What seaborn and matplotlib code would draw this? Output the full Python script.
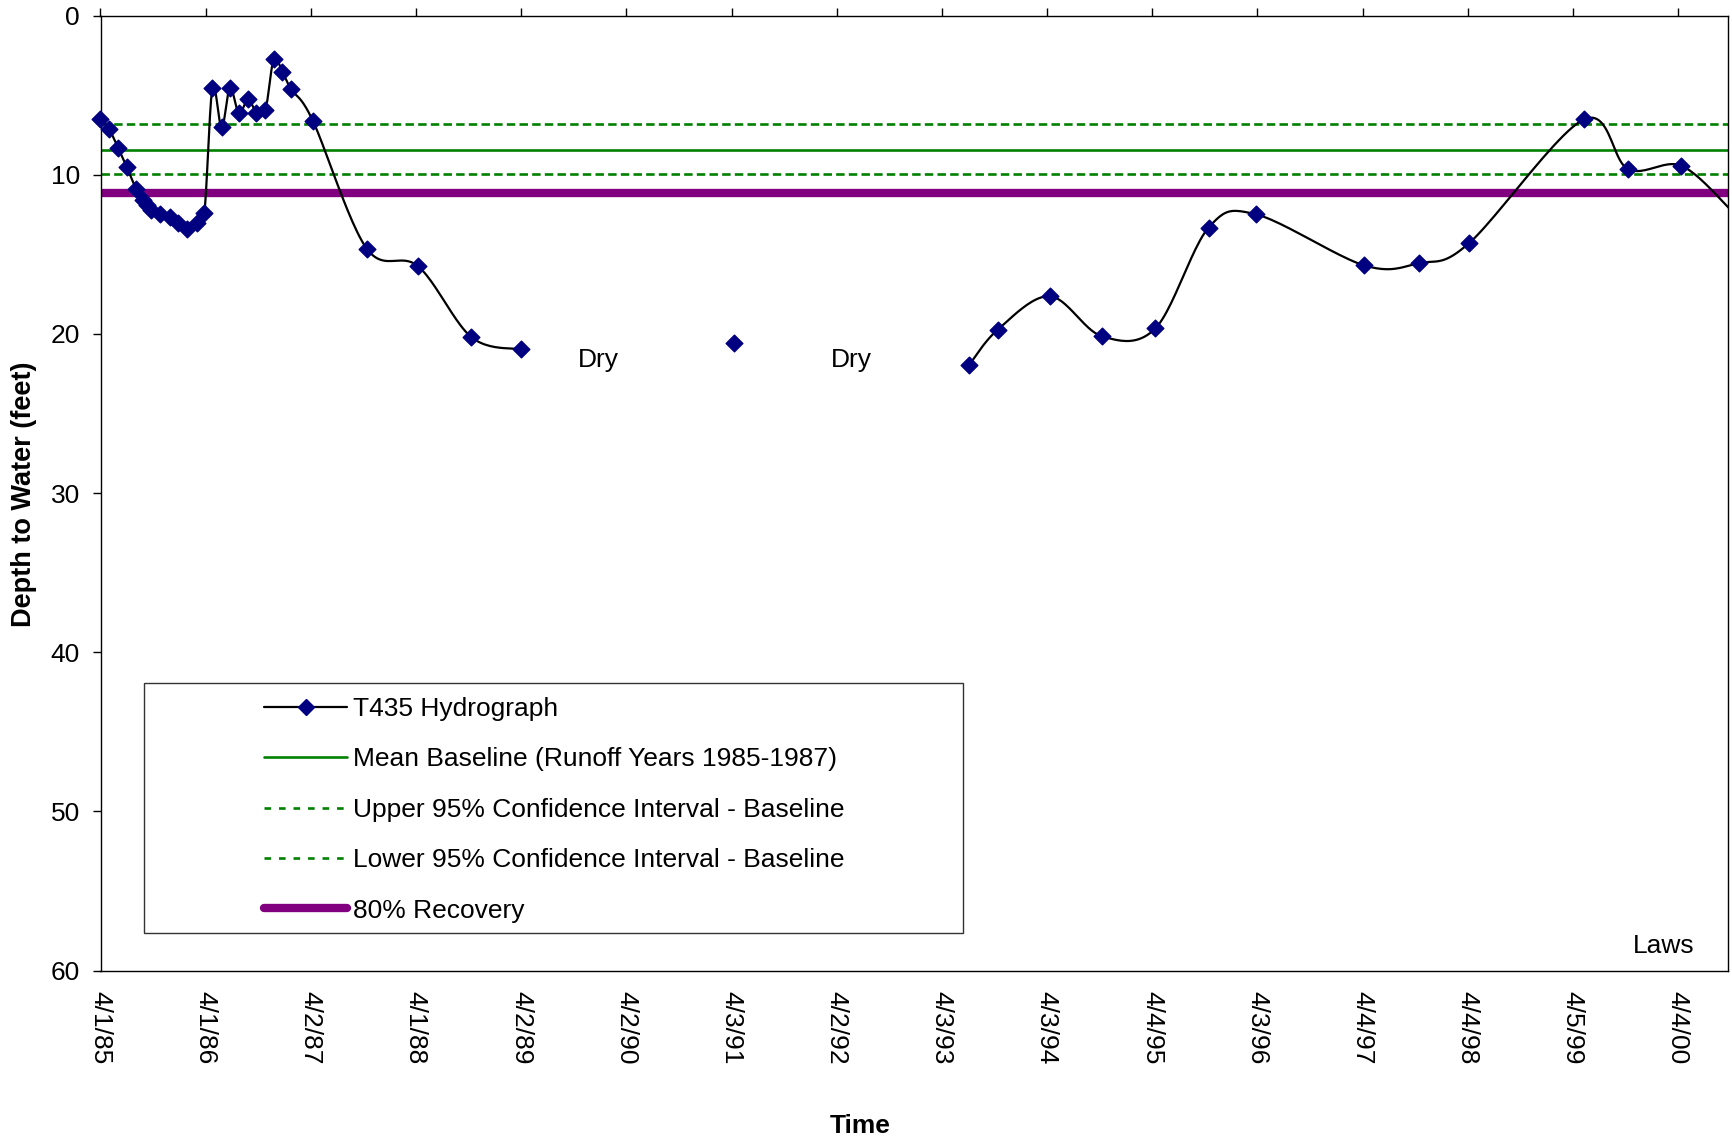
import numpy as np
import pandas as pd
import matplotlib
matplotlib.use("Agg")
import matplotlib.pyplot as plt
import matplotlib.dates as mdates
from matplotlib.lines import Line2D
from matplotlib.patches import Rectangle
import seaborn as sns

# ---------------- data ----------------
seg1_dates = ["1985-04-01", "1985-05-01", "1985-06-02", "1985-07-01", "1985-08-02",
              "1985-08-25", "1985-09-10", "1985-09-25", "1985-10-26", "1985-11-28",
              "1985-12-28", "1986-01-28", "1986-03-01", "1986-03-28", "1986-04-25",
              "1986-05-27", "1986-06-25", "1986-07-26", "1986-08-27", "1986-09-25",
              "1986-10-26", "1986-11-24", "1986-12-24", "1987-01-24", "1987-04-09",
              "1987-10-13", "1988-04-09", "1988-10-11", "1989-04-01"]
seg1_depth = [6.52, 7.13, 8.34, 9.50, 10.86,
              11.59, 11.90, 12.18, 12.43, 12.64,
              13.02, 13.43, 13.02, 12.39, 4.53,
              7.02, 4.53, 6.14, 5.24, 6.10,
              5.93, 2.74, 3.52, 4.63, 6.60,
              14.63, 15.75, 20.20, 20.97]

seg2_dates = ["1991-04-12"]
seg2_depth = [20.55]

seg3_dates = ["1993-07-07", "1993-10-15", "1994-04-13", "1994-10-10", "1995-04-15",
              "1995-10-17", "1996-03-31", "1997-04-10", "1997-10-18", "1998-04-09",
              "1999-05-13", "1999-10-14", "2000-04-16", "2000-10-10"]
seg3_depth = [21.94, 19.72, 17.63, 20.13, 19.65,
              13.32, 12.49, 15.69, 15.55, 14.30,
              6.52, 9.64, 9.43, 12.30]

mean_baseline = 8.43
upper_ci = 6.83
lower_ci = 9.96
recovery_80 = 11.17

tick_dates = ["1985-04-01", "1986-04-01", "1987-04-02", "1988-04-01", "1989-04-02",
              "1990-04-02", "1991-04-03", "1992-04-02", "1993-04-03", "1994-04-03",
              "1995-04-04", "1996-04-03", "1997-04-04", "1998-04-04", "1999-04-05",
              "2000-04-04"]
tick_labels = ["4/1/85", "4/1/86", "4/2/87", "4/1/88", "4/2/89", "4/2/90", "4/3/91",
               "4/2/92", "4/3/93", "4/3/94", "4/4/95", "4/3/96", "4/4/97", "4/4/98",
               "4/5/99", "4/4/00"]

legend_labels = ["T435 Hydrograph", "Mean Baseline (Runoff Years 1985-1987)",
                 "Upper 95% Confidence Interval - Baseline",
                 "Lower 95% Confidence Interval - Baseline", "80% Recovery"]

# ---------------- style ----------------
sns.set_theme(style="white")
plt.rcParams["font.family"] = ["Liberation Sans", "DejaVu Sans"]
for k in ["text.color", "axes.labelcolor", "xtick.color", "ytick.color"]:
    plt.rcParams[k] = "black"
FS = 19
NAVY, GREEN, PURPLE = "#000080", "#008000", "#800080"

W, H = 1732, 1139
fig = plt.figure(figsize=(W / 100, H / 100), dpi=100)
ax = fig.add_axes([100.5 / W, 1 - 970.5 / H, (1728.5 - 100.5) / W, (970.5 - 15.7) / H])

x_min = pd.Timestamp("1985-04-01")
x_max = pd.Timestamp("2000-09-27")
ax.set_xlim(x_min, x_max)
ax.set_ylim(60, 0)

# horizontal reference lines
ax.axhline(upper_ci, color=GREEN, lw=1.9, dashes=(3.2, 1.6), zorder=2)
ax.axhline(lower_ci, color=GREEN, lw=1.9, dashes=(3.2, 1.6), zorder=2)
ax.axhline(mean_baseline, color=GREEN, lw=1.9, zorder=2)
ax.axhline(recovery_80, color=PURPLE, lw=6.0, solid_capstyle="round", zorder=2)


def smooth_display(dates, depth, n=24):
    """Excel-like smoothed line: cubic Bezier through the points in display space."""
    xd = mdates.date2num(pd.to_datetime(dates))
    P = ax.transData.transform(np.column_stack([xd, depth]))
    if len(P) < 2:
        return xd, np.asarray(depth)
    ext = np.vstack([P[0], P, P[-1]])
    t = np.linspace(0, 1, n + 1)[1:][:, None]
    out = [P[:1]]
    for i in range(len(P) - 1):
        p0, p1, p2, p3 = ext[i], ext[i + 1], ext[i + 2], ext[i + 3]
        c1 = p1 + (p2 - p0) / 6.0
        c2 = p2 - (p3 - p1) / 6.0
        seg = ((1 - t) ** 3) * p1 + 3 * (1 - t) ** 2 * t * c1 + 3 * (1 - t) * t ** 2 * c2 + t ** 3 * p2
        out.append(seg)
    out = np.vstack(out)
    back = ax.transData.inverted().transform(out)
    return back[:, 0], back[:, 1]


for d, v in [(seg1_dates, seg1_depth), (seg3_dates, seg3_depth)]:
    sx, sy = smooth_display(d, v)
    ax.plot(sx, sy, color="black", lw=1.6, zorder=3, solid_capstyle="butt")

all_pts = pd.DataFrame({
    "date": pd.to_datetime(seg1_dates + seg2_dates + seg3_dates),
    "depth": seg1_depth + seg2_depth + seg3_depth,
})
vis_pts = all_pts[(all_pts["date"] >= x_min) & (all_pts["date"] <= x_max)]
sns.scatterplot(data=vis_pts, x="date", y="depth", marker="D", s=72, color=NAVY,
                edgecolor=NAVY, linewidth=1, zorder=4, ax=ax, clip_on=False)

# axes / ticks
ax.set_xlim(x_min, x_max)
ax.set_ylim(60, 0)
ax.set_xticks(pd.to_datetime(tick_dates))
ax.set_xticklabels(tick_labels, rotation=270, ha="center", va="top", fontsize=FS)
ax.set_yticks(np.arange(0, 61, 10))
ax.set_yticklabels([str(v) for v in range(0, 61, 10)], fontsize=FS)
ax.tick_params(axis="x", which="both", top=True, bottom=False, labeltop=False,
               labelbottom=True, direction="out", length=5.5, width=1, pad=9, color="black")
ax.tick_params(axis="y", left=True, direction="out", length=5.8, width=1, pad=9, color="black")
ax.set_xlabel("")
ax.set_ylabel("")
for sp in ax.spines.values():
    sp.set_visible(True)
    sp.set_color("black")
    sp.set_linewidth(1.0)
ax.grid(False)
ax.set_facecolor("white")

# annotations
ax.text(pd.Timestamp("1989-12-28"), 22.08, "Dry", ha="center", va="baseline", fontsize=FS)
ax.text(pd.Timestamp("1992-05-23"), 22.08, "Dry", ha="center", va="baseline", fontsize=FS)
ax.text((1695 - 100.5) / 1628, (970.5 - 953) / 954.8, "Laws", transform=ax.transAxes,
        ha="right", va="baseline", fontsize=FS)

fig.text(860 / W, 1 - 1133 / H, "Time", ha="center", va="baseline", fontsize=FS,
         fontweight="bold")
fig.text(24.5 / W, 1 - 494 / H, "Depth to Water (feet)", rotation=90, ha="center",
         va="center", fontsize=19.5, fontweight="bold")

# legend
handles = [
    Line2D([], [], color="black", lw=1.6, marker="D", ms=8.5, mfc=NAVY, mec=NAVY),
    Line2D([], [], color=GREEN, lw=1.9),
    Line2D([], [], color=GREEN, lw=1.9, dashes=(2.5, 3)),
    Line2D([], [], color=GREEN, lw=1.9, dashes=(2.5, 3)),
    Line2D([], [], color=PURPLE, lw=6.0, solid_capstyle="round"),
]
fig.patches.append(Rectangle((144 / W, 1 - 933.4 / H), (963 - 144) / W, (933.4 - 682.7) / H,
                             transform=fig.transFigure, fill=True, facecolor="white",
                             edgecolor="#333333", lw=1.0, zorder=5))
leg = fig.legend(handles, legend_labels, loc="upper left",
                 bbox_to_anchor=(264 / W, 1 - 697 / H), frameon=False, fontsize=FS,
                 borderpad=0, handlelength=3.15, handletextpad=0.22, labelspacing=1.0,
                 borderaxespad=0)
leg.set_zorder(6)

fig.savefig("out.png", dpi=100)
